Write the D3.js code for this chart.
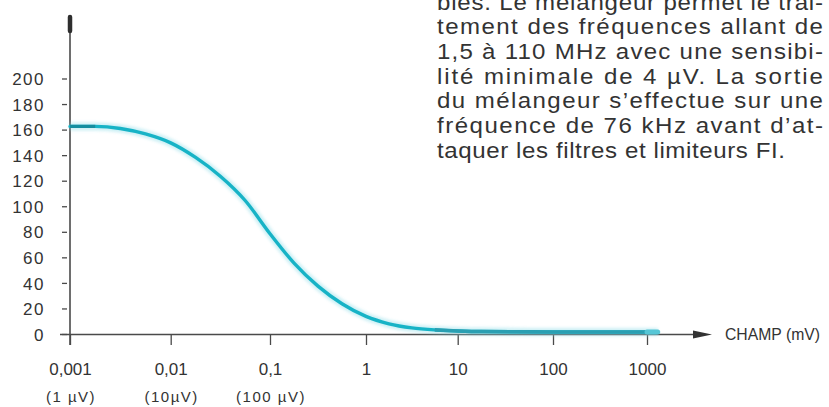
<!DOCTYPE html>
<html>
<head>
<meta charset="utf-8">
<script src="https://cdn.jsdelivr.net/npm/d3@7"></script>
<style>
  html, body { margin: 0; padding: 0; background: #ffffff; }
  svg { display: block; }
  text { font-family: "Liberation Sans", Arial, Helvetica, sans-serif; fill: #333; }
</style>
</head>
<body>
<svg id="chart" width="829" height="407"></svg>
<script>
// Field strength (mV) along the curve, and the response read at each point
const fieldMv = [0.001, 0.00178, 0.00316, 0.00562, 0.01, 0.0178, 0.0316, 0.0562, 0.1, 0.178,
                 0.316, 0.562, 1, 1.78, 3.16, 5.62, 10, 17.8, 100, 1000, 1300];
const level   = [162.5, 162.5, 160.9, 156.6, 149.6, 138.2, 123.5, 104.5, 78.5, 55.5,
                 37.5, 23.7, 13.8, 8, 4.8, 3.2, 2.4, 1.9, 1.6, 1.6, 1.6];

// Axis ticks and their labels
const yTicks = [0, 20, 40, 60, 80, 100, 120, 140, 160, 180, 200];
const xTicks = [0.001, 0.01, 0.1, 1, 10, 100, 1000];
const xTickLabels = ["0,001", "0,01", "0,1", "1", "10", "100", "1000"];
const xSubTicks = [0.001, 0.01, 0.1];
const xSubLabels = ["(1\u00a0µV)", "(10µV)", "(100 µV)"];
const xAxisTitle = "CHAMP (mV)";

// Accompanying column of text
const paragraph = [
  "bles. Le mélangeur permet le trai-",
  "tement des fréquences allant de",
  "1,5 à 110 MHz avec une sensibi-",
  "lité minimale de 4 µV. La sortie",
  "du mélangeur s’effectue sur une",
  "fréquence de 76 kHz avant d’at-",
  "taquer les filtres et limiteurs FI."
];

const svg = d3.select("#chart");

// Hand-ruled log axis: each decade has its own width on the page
const x = d3.scaleLog()
  .domain(xTicks)
  .range([70, 170.7, 270, 366, 457.7, 553, 647]);
const y = d3.scaleLinear().domain([0, 200]).range([334, 78.5]);

const axisColor = "#4a4a4a";

// Soft halo filter for the curve
const defs = svg.append("defs");
defs.append("filter").attr("id", "soft")
  .attr("x", "-5%").attr("y", "-5%").attr("width", "110%").attr("height", "110%")
  .append("feGaussianBlur").attr("stdDeviation", 1.6);

// Y axis: short dashes left of the vertical line, labels right-aligned
const yAxis = d3.axisLeft(y).tickValues(yTicks).tickSize(5).tickPadding(17)
  .tickFormat(d => String(d));
const gy = svg.append("g").attr("transform", "translate(67,0)").call(yAxis);
gy.select(".domain").remove();
gy.selectAll(".tick line").attr("stroke", axisColor).attr("stroke-width", 1.3);
gy.selectAll(".tick text")
  .style("font-family", "'Liberation Sans', Arial, sans-serif")
  .style("font-size", "17px").style("letter-spacing", "1.5px")
  .attr("fill", "#383838").attr("dy", "0.36em");

// Vertical axis line with its arrow tip
svg.append("line")
  .attr("x1", 70).attr("x2", 70).attr("y1", 20).attr("y2", 345)
  .attr("stroke", axisColor).attr("stroke-width", 1.6);
svg.append("line")
  .attr("x1", 70).attr("x2", 70).attr("y1", 17).attr("y2", 31)
  .attr("stroke", "#2e2e2e").attr("stroke-width", 4.5).attr("stroke-linecap", "round");

// X axis (log scale) with downward ticks
const xAxis = d3.axisBottom(x).tickValues(xTicks).tickSize(10).tickPadding(18)
  .tickFormat((d, i) => xTickLabels[i]);
const gx = svg.append("g").attr("transform", "translate(0,335)").call(xAxis);
gx.select(".domain").remove();
gx.selectAll(".tick line").attr("stroke", axisColor).attr("stroke-width", 1.3);
gx.selectAll(".tick text")
  .style("font-family", "'Liberation Sans', Arial, sans-serif")
  .style("font-size", "17px")
  .attr("fill", "#383838");

// Horizontal axis line with arrow head
svg.append("line")
  .attr("x1", 60).attr("x2", 700).attr("y1", 334.5).attr("y2", 334.5)
  .attr("stroke", axisColor).attr("stroke-width", 1.6);
svg.append("path")
  .attr("d", "M693,330.5 L712,334.5 L693,338.5 Z")
  .attr("fill", "#333");

svg.append("text")
  .attr("x", 725).attr("y", 339.5)
  .attr("textLength", 95).attr("lengthAdjust", "spacingAndGlyphs")
  .style("font-size", "17px")
  .attr("fill", "#383838")
  .text(xAxisTitle);

// Microvolt equivalents under the first decades
svg.append("g").selectAll("text")
  .data(xSubTicks)
  .join("text")
  .attr("x", d => x(d) + 1)
  .attr("y", 402)
  .attr("text-anchor", "middle")
  .style("font-size", "15px").style("letter-spacing", "1.5px")
  .attr("fill", "#383838")
  .text((d, i) => xSubLabels[i]);

// Response curve
const pts = fieldMv.map((f, i) => [f, level[i]]);
const line = d3.line().x(d => x(d[0])).y(d => y(d[1])).curve(d3.curveMonotoneX);

svg.append("path").datum(pts)
  .attr("d", line).attr("fill", "none")
  .attr("stroke", "#8fdde8").attr("stroke-width", 8).attr("opacity", 0.45)
  .attr("filter", "url(#soft)");
svg.append("path").datum(pts)
  .attr("d", line).attr("fill", "none")
  .attr("stroke", "#17b3c6").attr("stroke-width", 3.4).attr("stroke-linecap", "round");

// Darker start of the curve near the vertical axis
const startPts = pts.filter(d => d[0] <= 0.00178);
svg.append("path").datum(startPts)
  .attr("d", line).attr("fill", "none")
  .attr("stroke", "#158ea0").attr("stroke-width", 3.2);

// Flat tail along the horizontal axis
const tailPts = pts.filter(d => d[0] >= 5.62);
svg.append("path").datum(tailPts)
  .attr("d", line).attr("fill", "none")
  .attr("stroke", "#2a9fb2").attr("stroke-width", 3.6);
const endPts = pts.filter(d => d[0] >= 1000);
svg.append("path").datum(endPts)
  .attr("d", line).attr("fill", "none")
  .attr("stroke", "#55c6d6").attr("stroke-width", 5).attr("stroke-linecap", "round");

// Text column, set wide and justified between two margins
const textLeft = 437, textRight = 823, stretch = 1.12;
svg.append("g")
  .attr("transform", `translate(${textLeft},0) scale(${stretch},1)`)
  .selectAll("text")
  .data(paragraph)
  .join("text")
  .attr("x", 0)
  .attr("y", (d, i) => 9.5 + i * 24.75)
  .attr("textLength", (d, i) => (i === paragraph.length - 1 ? 348 : textRight - textLeft) / stretch)
  .attr("lengthAdjust", "spacing")
  .style("font-size", "21.5px")
  .attr("fill", "#444")
  .text(d => d);
</script>
</body>
</html>
